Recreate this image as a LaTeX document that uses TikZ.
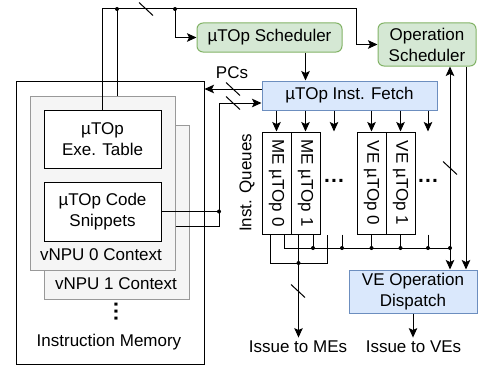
\documentclass[tikz,border=0pt]{standalone}
\usepackage{fontspec}
\setmainfont{Liberation Sans}
\usetikzlibrary{arrows.meta}
\usetikzlibrary{positioning}
\usepackage{xcolor}
\definecolor{schedfill}{HTML}{D5E8D4}
\definecolor{schedline}{HTML}{82B366}
\definecolor{fetchfill}{HTML}{DAE8FC}
\definecolor{fetchline}{HTML}{6C8EBF}
\definecolor{ctxfill}{HTML}{F5F5F5}
\definecolor{ctxline}{HTML}{999999}
\newcommand{\dotrow}{.\kern1.2pt.\kern1.2pt.}

\begin{document}
\begin{tikzpicture}[x=1pt, y=-1pt, line width=1pt,
  font=\fontsize{17}{21}\selectfont,
  >={Stealth[length=9.5pt,width=8.5pt,inset=2pt]},
  memblock/.style={draw, fill=white, align=center, inner sep=0pt},
  ctxbox/.style={draw=ctxline, fill=ctxfill, minimum width=145pt, minimum height=174pt},
  schedbox/.style={draw=schedline, fill=schedfill, rounded corners=6pt, align=center, inner sep=0pt},
  fetchbox/.style={draw=fetchline, fill=fetchfill, align=center, inner sep=0pt},
  queue/.style={memblock, rotate=-90, minimum width=102pt, minimum height=29pt},
  txt/.style={inner sep=3pt},
  ellip/.style={font=\fontsize{21}{21}\selectfont\bfseries, inner sep=0pt}]
  \useasboundingbox (0,0) rectangle (478,369);

  % instruction memory with the two contexts
  \node[memblock, minimum width=188pt, minimum height=283pt] (InstMem) at (110,222.5) {};
  \node[txt] (InstMemName) at (109,342) {Instruction Memory};
  \node[ctxbox] (Ctx1) at (116.5,212) {};
  \node[ctxbox] (Ctx0) at (102.5,183) {};
  \node[memblock, minimum width=117pt, minimum height=58pt] (ExeTable) at (102.5,139) {µTOp\\Exe. Table};
  \node[memblock, minimum width=117pt, minimum height=59pt] (CodeSnip) at (102.5,211.5) {µTOp Code\\Snippets};
  \node[txt] (Ctx0Name) at (101,255) {vNPU 0 Context};
  \node[txt] (Ctx1Name) at (116,284) {vNPU 1 Context};
  \node[ellip, rotate=90] (MemDots) at (116,312) {\dotrow};

  % schedulers, fetch and dispatch
  \node[schedbox, minimum width=145pt, minimum height=29pt] (UopSched) at (269.5,37.5) {µTOp Scheduler};
  \node[schedbox, minimum width=98pt, minimum height=43pt] (OpSched) at (427,44.5) {Operation\\Scheduler};
  \node[fetchbox, minimum width=175pt, minimum height=29pt] (Fetch) at (349.5,95.5) {µTOp Inst. Fetch};
  \node[fetchbox, minimum width=128pt, minimum height=43pt] (VEDisp) at (413,291.5) {VE Operation\\Dispatch};

  % instruction queues
  \node[queue] (ME0) at (276.5,183) {ME µTOp 0};
  \node[queue] (ME1) at (305.5,183) {ME µTOp 1};
  \node[queue] (VE0) at (371.5,183) {VE µTOp 0};
  \node[queue] (VE1) at (400.5,183) {VE µTOp 1};
  \node[ellip] (Dots1) at (334,181) {\dotrow};
  \node[ellip] (Dots2) at (428,181) {\dotrow};
  \node[txt, rotate=90] (QName) at (247,183) {Inst. Queues};

  \node[txt] (PCs) at (232,73) {PCs};
  \node[txt] (IssueME) at (298,347) {Issue to MEs};
  \node[txt] (IssueVE) at (413.5,347) {Issue to VEs};

  % corners and taps
  \coordinate (TopJoin)   at (117,9);
  \coordinate (TopBranch) at (175,9);
  \coordinate (TopTurn)   at (356,9);
  \coordinate (SnipTurn)  at (219,226);
  \coordinate (MEBus)     at (0,263);
  \coordinate (VEBus)     at (0,248);
  \path ([yshift=6.5pt]Fetch.west) coordinate (FetchPC)
        ([yshift=-7.5pt]Fetch.west) coordinate (FetchCode)
        ([xshift=23pt]OpSched.south) coordinate (OpIn)
        ([xshift=39pt]OpSched.south) coordinate (OpOut);
  \path ([xshift=-6.5pt]ME0.east) coordinate (ME0a)
        ([xshift=7.5pt]ME0.east) coordinate (ME0b)
        ([xshift=-7pt]ME1.east) coordinate (ME1a)
        ([xshift=7.5pt]ME1.east) coordinate (ME1b)
        (Dots1 |- ME0.east) coordinate (D1)
        ([xshift=-7pt]D1) coordinate (D1a)
        ([xshift=8pt]D1) coordinate (D1b)
        (VE0.east) coordinate (VE0b)
        (VE1.east) coordinate (VE1b)
        (Dots2 |- ME0.east) coordinate (D2b);

  % top bus to the schedulers
  \draw[->] (ExeTable.north) |- (TopTurn) |- (OpSched.west);
  \draw (Ctx0.north -| TopJoin) -- (TopJoin);
  \draw[->] (TopBranch) |- (UopSched.west);
  \fill (TopJoin) circle (2pt) (TopBranch) circle (2pt);

  % PCs out, code snippets in
  \draw[->] (FetchPC) -- (FetchPC -| InstMem.east);
  \draw[->] (SnipTurn -| Ctx0.east) -- (SnipTurn) |- (FetchCode);
  \draw (CodeSnip.east) -- (CodeSnip.east -| SnipTurn);
  \fill (CodeSnip.east -| SnipTurn) circle (2pt);

  % fetch into the queues
  \draw[->] (UopSched.south -| ME1) -- (Fetch.north -| ME1);
  \foreach \q in {ME0,ME1,VE0,VE1}
    \draw[->] (Fetch.south -| \q) -- (\q.west);
  \foreach \q in {Dots1,Dots2}
    \draw[->] (Fetch.south -| \q) -- (\q |- ME0.west);

  % queue outputs
  \draw (ME0a) |- (MEBus -| D1a) -- (D1a);
  \draw[->] (ME1a) -- (ME1a |- IssueME.north);
  \fill (ME1a |- MEBus) circle (2pt);
  \draw (ME0b) |- (VEBus -| OpIn);
  \foreach \t in {ME1b,D1b,VE0b,VE1b,D2b}
  {
    \draw (\t) -- (\t |- VEBus);
    \fill (\t |- VEBus) circle (2pt);
  }
  \fill (VEBus -| OpIn) circle (2pt);

  % operation scheduler and VE dispatch
  \draw[<->] (OpIn) -- (OpIn |- VEDisp.north);
  \draw[->] (OpOut) -- (OpOut |- VEDisp.north);
  \draw[->] (VEDisp.south) -- (VEDisp.south |- IssueVE.north);

  % bus width marks
  \foreach \x/\y in {146/9, 233/89, 233/103, 450/168, 298/291}
    \draw (\x,\y) ++(-7,-6.5) -- ++(14,13);
\end{tikzpicture}
\end{document}
